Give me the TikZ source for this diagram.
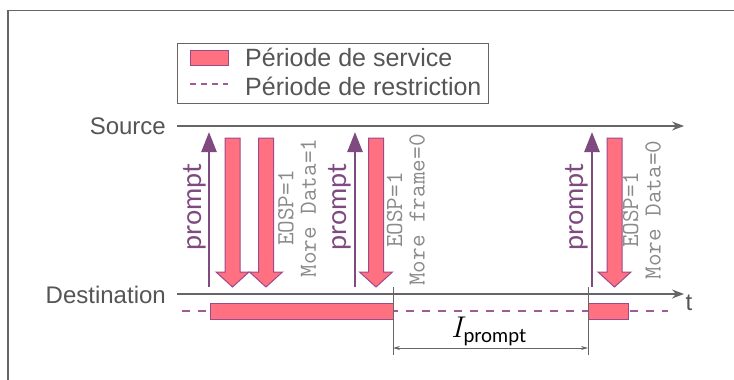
\documentclass[tikz,border=0pt]{standalone}
\usepackage{fontspec}
\newfontfamily\arialfont{Liberation Sans}
\newfontfamily\latofont{Lato}
\usetikzlibrary{arrows.meta}
\definecolor{svcfill}{HTML}{FF7080}
\definecolor{svcborder}{HTML}{9C4A8C}
\definecolor{prmcol}{HTML}{7E4A80}
\definecolor{txtgray}{HTML}{555555}
\definecolor{linegray}{HTML}{666666}
\definecolor{monogray}{HTML}{8A8A8A}
\definecolor{dashcol}{HTML}{A05A9A}
\newcommand{\svcarrow}[1]{\draw[svc] (#1-7.5,138) -- (#1+7.5,138) -- (#1+7.5,272) -- (#1+16.5,272) -- (#1,287) -- (#1-16.5,272) -- (#1-7.5,272) -- cycle;}
\begin{document}
\begin{tikzpicture}[x=1pt,y=-1pt,
  lbl/.style={inner sep=0pt, text=txtgray, font=\fontsize{24}{26}\selectfont\arialfont},
  leglbl/.style={inner sep=0pt, text=txtgray, font=\fontsize{25}{27}\selectfont\arialfont, anchor=west},
  axis/.style={draw=linegray, line width=1.4pt, -{Stealth[length=12pt,width=9pt,inset=4pt]}},
  svc/.style={fill=svcfill, draw=svcborder, line width=1pt},
  prm/.style={draw=prmcol, line width=2.6pt, -{Triangle[length=20pt,width=15pt]}},
  prmlbl/.style={inner sep=0pt, text=prmcol, rotate=90, font=\fontsize{27}{29}\selectfont\latofont},
  mono/.style={inner sep=0pt, text=monogray, rotate=90, align=center, font=\fontsize{24.5}{22.5}\selectfont\ttfamily},
  restr/.style={draw=dashcol, line width=1.4pt, dash pattern=on 8pt off 8pt},
  vline/.style={draw=linegray, line width=0.8pt},
  dim/.style={draw=linegray, line width=0.7pt, {Stealth[length=7pt,width=4pt]}-{Stealth[length=7pt,width=4pt]}}
]
\useasboundingbox (0,0) rectangle (734,380);
% frame
\draw[draw=linegray, line width=1.3pt] (734,10.7) -- (8,10.7) -- (8,380);
% legend
\node[draw=linegray, line width=0.8pt, minimum width=311pt, minimum height=60pt, anchor=north west, inner sep=0pt] (legend) at (177,43) {};
\draw[svc] (190,50) rectangle (228,65);
\node[leglbl] (leg1) at (245,57) {Période de service};
\coordinate (ld0) at (190,84); \coordinate (ld1) at (228,84);
\draw[restr, dash pattern=on 6pt off 5pt] (ld0) -- (ld1);
\node[leglbl] (leg2) at (245,86) {Période de restriction};
% axes
\node[lbl, anchor=east] (srclbl) at (166,126) {Source};
\coordinate (s0) at (177,126); \coordinate (s1) at (684,126);
\draw[axis] (s0) -- (s1);
\node[lbl, anchor=east] (dstlbl) at (166,295) {Destination};
\coordinate (d0) at (177,294); \coordinate (d1) at (684,294);
\draw[axis] (d0) -- (d1);
\node[lbl] (tlbl) at (689,303) {t};
% restriction dashed line
\coordinate (r0) at (182,311); \coordinate (r1) at (668,311);
\draw[restr] (r0) -- (r1);
% service periods
\node[svc, draw, minimum width=183pt, minimum height=15.5pt, inner sep=0pt, anchor=north west] (sp1) at (210,303) {};
\node[svc, draw, minimum width=40pt, minimum height=15.5pt, inner sep=0pt, anchor=north west] (sp2) at (588,303) {};
% prompt arrows
\coordinate (p1b) at (209,287); \coordinate (p1t) at (209,132);
\coordinate (p2b) at (355,287); \coordinate (p2t) at (355,132);
\coordinate (p3b) at (592,287); \coordinate (p3t) at (592,132);
\draw[prm] (p1b) -- (p1t);
\draw[prm] (p2b) -- (p2t);
\draw[prm] (p3b) -- (p3t);
\node[prmlbl] (pl1) at (195,207) {prompt};
\node[prmlbl] (pl2) at (340,207) {prompt};
\node[prmlbl] (pl3) at (577,207) {prompt};
% service arrows
\svcarrow{232.5}
\svcarrow{266}
\svcarrow{376}
\svcarrow{614.5}
% flags
\node[mono] (f1) at (297,208) {EOSP=1\\More Data=1};
\node[mono] (f2) at (406,210) {EOSP=1\\More frame=0};
\node[mono] (f3) at (642,210) {EOSP=1\\More Data=0};
% interval
\coordinate (v1t) at (393,287); \coordinate (v1b) at (393,355);
\coordinate (v2t) at (588,287); \coordinate (v2b) at (588,355);
\draw[vline] (v1t) -- (v1b);
\draw[vline] (v2t) -- (v2b);
\coordinate (a0) at (393,348); \coordinate (a1) at (588,348);
\draw[dim] (a0) -- (a1);
\node[inner sep=0pt, anchor=base west] (ip) at (451,337) {\fontsize{30}{32}\selectfont\itshape I\kern1pt\raisebox{-5pt}{\fontsize{19.5}{20}\selectfont\upshape\latofont prompt}};
\end{tikzpicture}
\end{document}
